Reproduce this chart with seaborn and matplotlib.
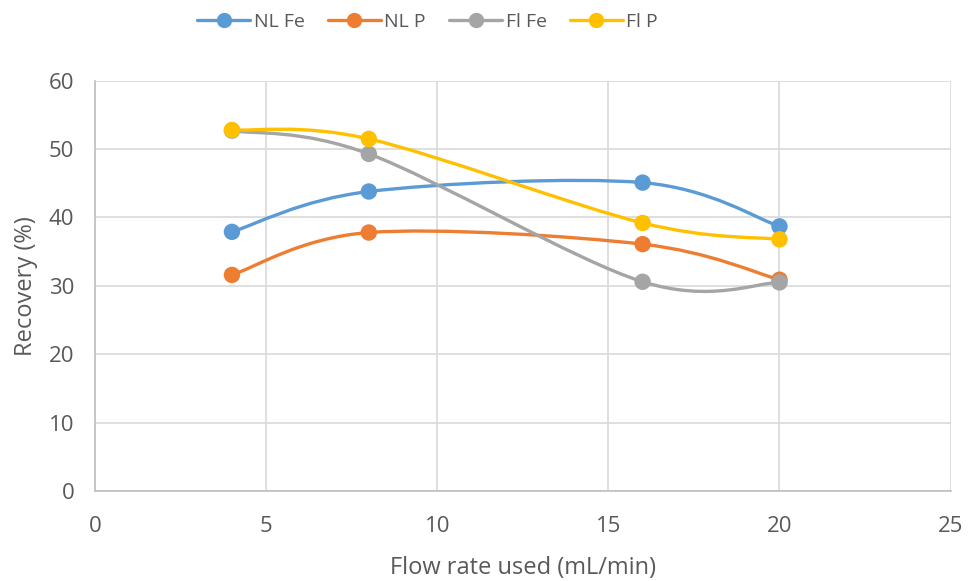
import numpy as np
import pandas as pd
import seaborn as sns
import matplotlib
matplotlib.use("Agg")
import matplotlib.pyplot as plt
from matplotlib.path import Path
from matplotlib.patches import PathPatch
from matplotlib.lines import Line2D

# Flow rates (mL/min) and recovery (%) for each series
flow_rate = [4, 8, 16, 20]
nl_fe = [37.9, 43.8, 45.1, 38.7]
nl_p = [31.6, 37.8, 36.1, 30.9]
fl_fe = [52.7, 49.3, 30.6, 30.5]
fl_p = [52.8, 51.5, 39.2, 36.8]

series_names = ["NL Fe", "NL P", "Fl Fe", "Fl P"]
series_values = [nl_fe, nl_p, fl_fe, fl_p]
colors = ["#5B9BD5", "#ED7D31", "#A5A5A5", "#FFC000"]

sns.set_theme(style="white")
plt.rcParams["font.family"] = ["Open Sans", "DejaVu Sans"]
text_color = "#595959"

df = pd.DataFrame(
    [(x, y, name) for name, vals in zip(series_names, series_values)
     for x, y in zip(flow_rate, vals)],
    columns=["flow", "recovery", "series"],
)

fig = plt.figure(figsize=(9.7, 5.81), dpi=100)
ax = fig.add_axes([0.098, 0.155, 0.882, 0.706])


def smooth_path(xs, ys):
    """Cubic Bezier path through the points (Catmull-Rom style tangents)."""
    pts = np.column_stack([xs, ys]).astype(float)
    n = len(pts)
    verts = [pts[0]]
    codes = [Path.MOVETO]
    for i in range(n - 1):
        p0 = pts[i - 1] if i > 0 else pts[i]
        p1 = pts[i]
        p2 = pts[i + 1]
        p3 = pts[i + 2] if i + 2 < n else pts[i + 1]
        c1 = p1 + (p2 - p0) / 6.0
        c2 = p2 - (p3 - p1) / 6.0
        verts += [c1, c2, p2]
        codes += [Path.CURVE4] * 3
    return Path(verts, codes)


for name, color in zip(series_names, colors):
    sub = df[df["series"] == name]
    patch = PathPatch(smooth_path(sub["flow"], sub["recovery"]),
                      facecolor="none", edgecolor=color, lw=2.4,
                      capstyle="round", joinstyle="round", zorder=3)
    ax.add_patch(patch)

sns.scatterplot(data=df, x="flow", y="recovery", hue="series",
                palette=colors, hue_order=series_names, s=140,
                edgecolor="none", legend=False, ax=ax, zorder=4)

ax.set_xlim(0, 25)
ax.set_ylim(0, 60)
ax.set_xticks(range(0, 26, 5))
ax.set_yticks(range(0, 61, 10))
ax.grid(True, color="#d9d9d9", lw=1.2)
ax.set_axisbelow(True)
for side in ["top", "right"]:
    ax.spines[side].set_visible(False)
for side in ["left", "bottom"]:
    ax.spines[side].set_color("#bfbfbf")
    ax.spines[side].set_linewidth(1.2)
ax.tick_params(axis="x", length=0, pad=18, labelsize=16, labelcolor=text_color)
ax.tick_params(axis="y", length=0, pad=15, labelsize=16, labelcolor=text_color)
ax.set_xlabel("Flow rate used (mL/min)", fontsize=17, color=text_color, labelpad=14)
ax.set_ylabel("Recovery (%)", fontsize=17, color=text_color, labelpad=8)

handles = [Line2D([0], [0], color=c, lw=2.4, marker="o", markersize=10)
           for c in colors]
fig.legend(handles, series_names, loc="center", ncol=4,
           bbox_to_anchor=(0.441, 0.962), frameon=False, fontsize=14,
           labelcolor=text_color, handlelength=2.7, columnspacing=1.2,
           handletextpad=0.2, borderaxespad=0)

fig.savefig("out.png", dpi=100)
